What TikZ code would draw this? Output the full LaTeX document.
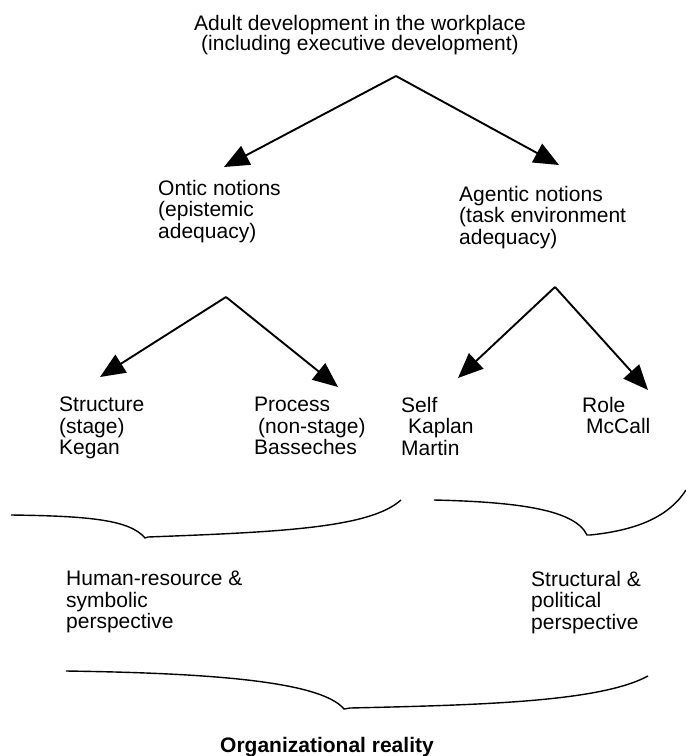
\documentclass[tikz,border=0pt]{standalone}
\usepackage{fontspec}
\setmainfont{Liberation Sans}
\usetikzlibrary{arrows.meta}
\begin{document}
\begin{tikzpicture}[x=1pt,y=-1pt,
  lbl/.style={anchor=north west, inner sep=0pt, align=left, font=\fontsize{21}{21.5}\selectfont},
  arr/.style={line width=1.9pt, -{Triangle[length=25pt,width=21pt]}},
  bracecurve/.style={line width=1.4pt}]
\useasboundingbox (0,0) rectangle (686,756);

% texts
\node[lbl, anchor=north, align=center, font=\fontsize{21}{19.5}\selectfont] (title) at (360,15)
  {Adult development in the workplace\\(including executive development)};
\node[lbl] (ontic) at (158,180) {Ontic notions\\(epistemic\\adequacy)};
\node[lbl] (agentic) at (459,186) {Agentic notions\\(task environment\\adequacy)};
\node[lbl] (structure) at (59,397) {Structure\\(stage)\\Kegan};
\node[lbl] (process) at (254,397) {Process\\\hspace*{4pt}(non-stage)\\Basseches};
\node[lbl] (self) at (401,397) {Self\\\hspace*{7pt}Kaplan\\Martin};
\node[lbl] (role) at (582,397) {Role\\\hspace*{4pt}McCall};
\node[lbl] (human) at (66,571) {Human-resource \&\\symbolic\\perspective};
\node[lbl] (structural) at (531,571) {Structural \&\\political\\perspective};
\node[lbl, anchor=north, font=\fontsize{21}{21.5}\selectfont\bfseries] (org) at (327,737) {Organizational reality};

% connector end points
\coordinate (split0) at (396,76);
\coordinate (tipOntic) at (224,167);
\coordinate (tipAgentic) at (559,165);
\coordinate (split1) at (226,297);
\coordinate (tipStructure) at (100,377);
\coordinate (tipProcess) at (338,387);
\coordinate (split2) at (555,287);
\coordinate (tipSelf) at (458,378);
\coordinate (tipRole) at (648,390);

\draw[arr] (split0) -- (tipOntic);
\draw[arr] (split0) -- (tipAgentic);
\draw[arr] (split1) -- (tipStructure);
\draw[arr] (split1) -- (tipProcess);
\draw[arr] (split2) -- (tipSelf);
\draw[arr] (split2) -- (tipRole);

% braces
\draw[bracecurve] (11,515) .. controls (90,516) and (130,520) .. (145,538)
  -- (148,537) .. controls (280,532) and (370,528) .. (401,500);
\draw[bracecurve] (434,500) .. controls (520,502) and (575,510) .. (587,535)
  -- (590,535) .. controls (640,530) and (670,515) .. (686,490);
\draw[bracecurve] (66,671) .. controls (200,673) and (320,680) .. (344,709)
  -- (350,708) .. controls (480,705) and (600,702) .. (648,676);
\end{tikzpicture}
\end{document}
